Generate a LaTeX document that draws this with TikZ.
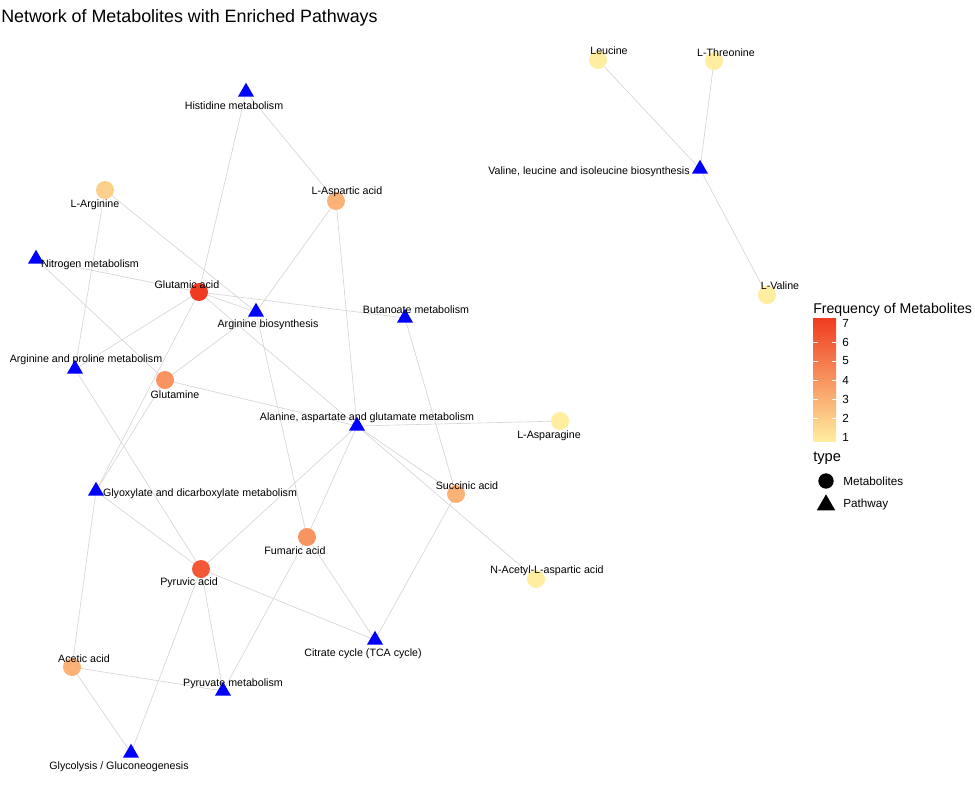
\documentclass[tikz,border=0pt]{standalone}
\usepackage{fontspec}
\setmainfont{Liberation Sans}
\usepackage{tikz}
\usetikzlibrary{calc,shapes.geometric,backgrounds}
\definecolor{freqlow}{HTML}{FFEDA0}
\definecolor{freqhigh}{HTML}{F03B20}
\definecolor{edgegrey}{HTML}{D3D3D3}
\colorlet{freq1}{freqlow}
\colorlet{freq2}{freqhigh!17!freqlow}
\colorlet{freq3}{freqhigh!33!freqlow}
\colorlet{freq4}{freqhigh!50!freqlow}
\colorlet{freq6}{freqhigh!83!freqlow}
\colorlet{freq7}{freqhigh}
\tikzstyle{metabolite}=[circle,inner sep=0pt,minimum size=13.5pt]
\tikzstyle{pathway}=[regular polygon,regular polygon sides=3,fill=blue,
                     inner sep=0pt,minimum size=13.9pt]
\tikzstyle{nodetext}=[font=\fontsize{8}{9}\selectfont,inner sep=0pt,yshift=-0.75pt]
\tikzstyle{legendtext}=[font=\fontsize{8.8}{10}\selectfont,inner sep=0pt,anchor=west]
\tikzstyle{link}=[draw=edgegrey,line width=0.45pt]

\begin{document}
\begin{tikzpicture}[x=0.75pt,y=-0.75pt]
    \useasboundingbox (0,0) rectangle (975,789);
    \node [anchor=base west,inner sep=0pt,font=\fontsize{13.4}{15}\selectfont] (title) at (1,22)
        {Network of Metabolites with Enriched Pathways};

    % metabolites
    \node [metabolite,fill=freq1] (leucine) at (598,60) {};
    \node [metabolite,fill=freq1] (threonine) at (714,61) {};
    \node [metabolite,fill=freq1] (valine) at (767,295) {};
    \node [metabolite,fill=freq3] (aspartic) at (336,201) {};
    \node [metabolite,fill=freq2] (arginine) at (105,190) {};
    \node [metabolite,fill=freq7] (glutamic) at (199,292) {};
    \node [metabolite,fill=freq4] (glutamine) at (165,380) {};
    \node [metabolite,fill=freq1] (asparagine) at (560,421) {};
    \node [metabolite,fill=freq3] (succinic) at (456,494) {};
    \node [metabolite,fill=freq4] (fumaric) at (307,537) {};
    \node [metabolite,fill=freq6] (pyruvic) at (201,569) {};
    \node [metabolite,fill=freq1] (acetyl) at (536,579) {};
    \node [metabolite,fill=freq3] (acetic) at (72,667) {};

    % pathways
    \node [pathway] (valpath) at (700,169) {};
    \node [pathway] (histidine) at (246,92) {};
    \node [pathway] (nitrogen) at (36,259) {};
    \node [pathway] (argbio) at (256,312) {};
    \node [pathway] (butanoate) at (405,318) {};
    \node [pathway] (argpro) at (75,369) {};
    \node [pathway] (alanine) at (357,426) {};
    \node [pathway] (glyoxylate) at (96,491) {};
    \node [pathway] (citrate) at (375,640) {};
    \node [pathway] (pyrmet) at (223,691) {};
    \node [pathway] (glycolysis) at (131,753) {};

    % labels
    \node [nodetext] (leucine text) at (609,50) {Leucine};
    \node [nodetext] (threonine text) at (726,52) {L-Threonine};
    \node [nodetext] (valine text) at (780,285) {L-Valine};
    \node [nodetext] (aspartic text) at (347,191) {L-Aspartic acid};
    \node [nodetext] (arginine text) at (95,204) {L-Arginine};
    \node [nodetext] (glutamic text) at (187,284) {Glutamic acid};
    \node [nodetext] (glutamine text) at (175,394) {Glutamine};
    \node [nodetext] (asparagine text) at (549,435) {L-Asparagine};
    \node [nodetext] (succinic text) at (467,485) {Succinic acid};
    \node [nodetext] (fumaric text) at (295,550) {Fumaric acid};
    \node [nodetext] (pyruvic text) at (189,582) {Pyruvic acid};
    \node [nodetext] (acetyl text) at (547,570) {N-Acetyl-L-aspartic acid};
    \node [nodetext] (acetic text) at (84,658) {Acetic acid};
    \node [nodetext] (valpath text) at (589,171) {Valine, leucine and isoleucine biosynthesis};
    \node [nodetext] (histidine text) at (234,105) {Histidine metabolism};
    \node [nodetext] (nitrogen text) at (90,264) {Nitrogen metabolism};
    \node [nodetext] (argbio text) at (268,324) {Arginine biosynthesis};
    \node [nodetext] (butanoate text) at (416,309) {Butanoate metabolism};
    \node [nodetext] (argpro text) at (86,359) {Arginine and proline metabolism};
    \node [nodetext] (alanine text) at (367,417) {Alanine, aspartate and glutamate metabolism};
    \node [nodetext] (glyoxylate text) at (200,493) {Glyoxylate and dicarboxylate metabolism};
    \node [nodetext] (citrate text) at (363,653) {Citrate cycle (TCA cycle)};
    \node [nodetext] (pyrmet text) at (233,683) {Pyruvate metabolism};
    \node [nodetext] (glycolysis text) at (119,766) {Glycolysis / Gluconeogenesis};

    % edges
    \begin{pgfonlayer}{background}
    \foreach \from/\to in {leucine/valpath,threonine/valpath,valine/valpath,
        aspartic/histidine,aspartic/argbio,aspartic/alanine,
        arginine/argpro,arginine/argbio,
        glutamic/nitrogen,glutamic/histidine,glutamic/argbio,glutamic/butanoate,
        glutamic/alanine,glutamic/argpro,glutamic/glyoxylate,
        glutamine/nitrogen,glutamine/argbio,glutamine/alanine,glutamine/glyoxylate,
        asparagine/alanine,
        succinic/butanoate,succinic/alanine,succinic/citrate,
        fumaric/argbio,fumaric/alanine,fumaric/citrate,fumaric/pyrmet,
        pyruvic/argpro,pyruvic/glyoxylate,pyruvic/alanine,pyruvic/citrate,
        pyruvic/pyrmet,pyruvic/glycolysis,
        acetyl/alanine,
        acetic/glyoxylate,acetic/pyrmet,acetic/glycolysis}
        \draw [link] (\from.center) -- (\to.center);
    \end{pgfonlayer}

    % legend
    \node [anchor=base west,inner sep=0pt,font=\fontsize{10.6}{13}\selectfont] (freq title) at (813,313)
        {Frequency of Metabolites};
    \shade [bottom color=freqlow,top color=freqhigh] (813,318) rectangle (836,441);
    \foreach \v in {1,...,7} {
        \node [legendtext] (freq \v) at (842,{437-19*(\v-1)}) {\v};
    }
    \foreach \v in {2,...,6} {
        \draw [white,line width=0.5pt] (813,{437-19*(\v-1)}) -- ++(4.5,0)
              (836,{437-19*(\v-1)}) -- ++(-4.5,0);
    }
    \node [anchor=base west,inner sep=0pt,font=\fontsize{11}{13}\selectfont] (type title) at (813,461) {type};
    \node [metabolite,fill=black,minimum size=11.5pt] (key metabolite) at (826,481) {};
    \node [pathway,fill=black,minimum size=16pt] (key pathway) at (826,505) {};
    \node [legendtext] (key metabolite text) at (843,481) {Metabolites};
    \node [legendtext] (key pathway text) at (843,504) {Pathway};
\end{tikzpicture}
\end{document}
